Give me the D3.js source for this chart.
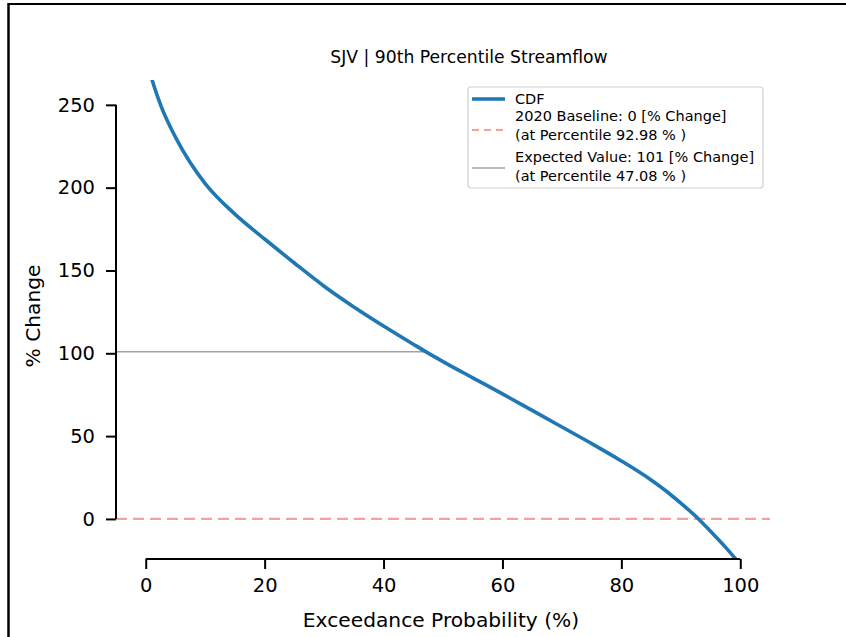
<!DOCTYPE html>
<html>
<head>
<meta charset="utf-8">
<script src="https://cdn.jsdelivr.net/npm/d3@7"></script>
<style>
html,body{margin:0;padding:0;background:#fff;}
svg{display:block;font-family:"DejaVu Sans",sans-serif;}
</style>
</head>
<body>
<svg id="chart" width="846" height="637"></svg>
<script>
// ---- data ----
const title = "SJV | 90th Percentile Streamflow";
const xLabel = "Exceedance Probability (%)";
const yLabel = "% Change";
const exceedance = [0, 1, 2.5, 5, 7.5, 10, 15, 20, 25, 30, 35, 40, 45, 47.08, 50, 55, 60, 65, 70, 75, 80, 85, 88, 90, 92.98, 95, 97.5, 99.3, 100];
const pctChange  = [280, 266, 250, 230.5, 215, 202.5, 184, 169, 154.5, 140.5, 128, 116.5, 105.5, 101, 95, 85.2, 75.5, 65.5, 55.5, 45.5, 35, 23.5, 15.5, 9.5, 0, -7.5, -17, -24.5, -27.5];
const xTicks = [0, 20, 40, 60, 80, 100];
const yTicks = [0, 50, 100, 150, 200, 250];
const baselineValue = 0, baselinePct = 92.98;
const expectedValue = 101, expectedPct = 47.08;
const legendLabels = [
  ["CDF"],
  ["2020 Baseline: 0 [% Change]", "(at Percentile 92.98 % )"],
  ["Expected Value: 101 [% Change]", "(at Percentile 47.08 % )"]
];

// ---- layout ----
const svg = d3.select("#chart");
const pLeft = 116, pRight = 770, pTop = 80, pBottom = 559;
const x = d3.scaleLinear().domain([-5, 105]).range([pLeft, pRight]);
const y = d3.scaleLinear().domain([-24.2, 265]).range([pBottom, pTop]);

// frame (top & left borders)
svg.append("line").attr("x1", 8).attr("x2", 846).attr("y1", 4).attr("y2", 4).attr("stroke", "#000").attr("stroke-width", 2);
svg.append("line").attr("x1", 8.5).attr("x2", 8.5).attr("y1", 3).attr("y2", 637).attr("stroke", "#000").attr("stroke-width", 2.5);

svg.append("defs").append("clipPath").attr("id", "clip")
  .append("rect").attr("x", pLeft).attr("y", pTop).attr("width", pRight - pLeft).attr("height", pBottom - pTop);

const plot = svg.append("g").attr("clip-path", "url(#clip)");

// baseline dashed
plot.append("line")
  .attr("x1", x(-5)).attr("x2", x(105))
  .attr("y1", y(baselineValue)).attr("y2", y(baselineValue))
  .attr("stroke", "#f2a0a0").attr("stroke-width", 2.2).attr("stroke-dasharray", "11,6");

// expected value line
plot.append("line")
  .attr("x1", x(-5)).attr("x2", x(expectedPct))
  .attr("y1", y(expectedValue)).attr("y2", y(expectedValue))
  .attr("stroke", "#a0a0a0").attr("stroke-width", 1.5);

// CDF curve
const data = exceedance.map((d, i) => [d, pctChange[i]]);
plot.append("path").datum(data)
  .attr("fill", "none").attr("stroke", "#1f77b4").attr("stroke-width", 3.6)
  .attr("stroke-linejoin", "round")
  .attr("d", d3.line().x(d => x(d[0])).y(d => y(d[1])).curve(d3.curveMonotoneX));

// axes
const xAxis = svg.append("g").attr("transform", `translate(0,${pBottom})`)
  .call(d3.axisBottom(x).tickValues(xTicks).tickSize(10).tickPadding(9).tickSizeOuter(0));
xAxis.select(".domain").attr("d", `M${x(0)},0H${x(100)}`).attr("stroke-width", 2);
xAxis.selectAll(".tick line").attr("stroke-width", 2);
xAxis.selectAll("text").attr("font-size", 19.5).attr("fill", "#000").attr("font-family", "DejaVu Sans");

const yAxis = svg.append("g").attr("transform", `translate(${pLeft},0)`)
  .call(d3.axisLeft(y).tickValues(yTicks).tickSize(10).tickPadding(11).tickSizeOuter(0));
yAxis.select(".domain").attr("d", `M0,${y(0)}V${y(250)}`).attr("stroke-width", 2);
yAxis.selectAll(".tick line").attr("stroke-width", 2);
yAxis.selectAll("text").attr("font-size", 19.5).attr("fill", "#000").attr("font-family", "DejaVu Sans");

// labels
svg.append("text").attr("x", 469).attr("y", 63).attr("text-anchor", "middle")
  .attr("font-size", 17.2).text(title);
svg.append("text").attr("x", 441).attr("y", 627).attr("text-anchor", "middle")
  .attr("font-size", 20.2).text(xLabel);
svg.append("text").attr("transform", "translate(40,316) rotate(-90)").attr("text-anchor", "middle")
  .attr("font-size", 20.2).text(yLabel);

// legend
const lg = svg.append("g");
lg.append("rect").attr("x", 468).attr("y", 87).attr("width", 295).attr("height", 101)
  .attr("rx", 3).attr("fill", "#fff").attr("stroke", "#d0d0d0").attr("stroke-width", 1.2);
const handles = [
  {y: 99, color: "#1f77b4", w: 3.6, dash: null},
  {y: 130, color: "#f2a0a0", w: 2.2, dash: "7,5"},
  {y: 168, color: "#a0a0a0", w: 1.5, dash: null}
];
const textTop = [104, 121, 161.5];
handles.forEach((h, i) => {
  lg.append("line").attr("x1", 472).attr("x2", 505).attr("y1", h.y).attr("y2", h.y)
    .attr("stroke", h.color).attr("stroke-width", h.w).attr("stroke-dasharray", h.dash);
  legendLabels[i].forEach((t, j) => {
    lg.append("text").attr("x", 515).attr("y", textTop[i] + j * 19.2)
      .attr("font-size", 14.5).text(t);
  });
});
</script>
</body>
</html>
